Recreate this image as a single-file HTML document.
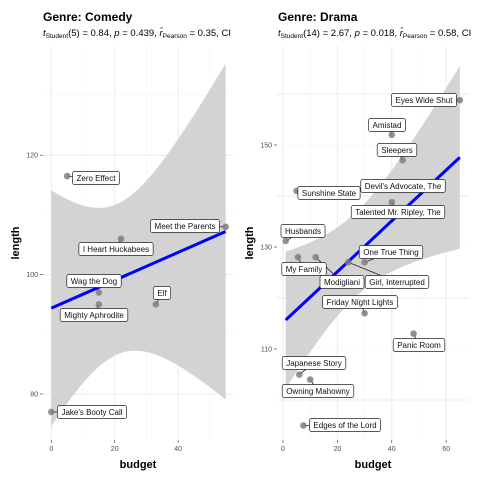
<!DOCTYPE html>
<html><head><meta charset="utf-8"><style>
body{margin:0;background:#fff;}
svg{display:block;font-family:"Liberation Sans",sans-serif;}
</style></head><body>
<svg id="chart" width="480" height="480">
<defs>
<clipPath id="clipL"><rect x="0" y="0" width="240" height="480"/></clipPath>
<clipPath id="clipR"><rect x="240" y="0" width="240" height="480"/></clipPath>
</defs>
</svg>
<script>
// Comedy data
const comedyNames = ["Zero Effect","Meet the Parents","I Heart Huckabees","Wag the Dog","Mighty Aphrodite","Elf","Jake's Booty Call"];
const comedyBudget = [5,55,22,15,15,33,0];
const comedyLength = [116.5,108,106,97,95,95,77];
// Drama data
const dramaNames = ["Eyes Wide Shut","Amistad","Sleepers","Devil's Advocate, The","Talented Mr. Ripley, The","Sunshine State","Husbands","My Family","Modigliani","Girl, Interrupted","One True Thing","Friday Night Lights","Panic Room","Japanese Story","Owning Mahowny","Edges of the Lord"];
const dramaBudget = [65,40,44,57,40,5,1,5.5,12,24,30,30,48,6,10,7.5];
const dramaLength = [158.8,152,147,142,138.8,141,131.2,128,128,127,127,117,113,105,104,95];
// tick labels
const comedyXTicks = [0,20,40];
const comedyYTicks = [80,100,120];
const dramaXTicks = [0,20,40,60];
const dramaYTicks = [110,130,150];
// label box centers (layout)
const comedyLabelPos = [[96,178],[185,226],[116,249],[94,281],[94,315],[162,293],[92,412]];
const dramaLabelPos = [[424,100],[387,125],[397,150],[403,186],[398,212],[329,193],[303,231],[304,269],[342,282],[397,282],[391,252],[360,302],[419,345],[314,363],[318,391],[345,425]];

const NS="http://www.w3.org/2000/svg";
const svg=document.getElementById('chart');
function mk(tag,attrs,parent){const e=document.createElementNS(NS,tag);for(const k in attrs)e.setAttribute(k,attrs[k]);(parent||svg).appendChild(e);return e;}

function panel(o){
  const g=mk('g',{'clip-path':o.clip});
  
  
  const sx=v=>o.x0px+(v-o.xmin)*o.xs;
  const sy=v=>o.y0px-(v-o.ymin)*o.ys;
  for(let v=o.gridXmin; v<=o.gridXmax; v+=o.xstep/2){
    const major=Math.abs((v/o.xstep)-Math.round(v/o.xstep))<1e-6;
    mk('line',{x1:sx(v),x2:sx(v),y1:o.top,y2:o.bot,stroke:major?'#ebebeb':'#f4f4f4','stroke-width':major?1:0.6},g);
  }
  for(let v=o.gridYmin; v<=o.gridYmax; v+=o.ystep/2){
    const major=Math.abs((v/o.ystep)-Math.round(v/o.ystep))<1e-6;
    mk('line',{x1:o.left,x2:o.right,y1:sy(v),y2:sy(v),stroke:major?'#ebebeb':'#f4f4f4','stroke-width':major?1:0.6},g);
  }
  const xs=o.bx, ys=o.ly, n=xs.length;
  const mx=xs.reduce((a,b)=>a+b)/n, my=ys.reduce((a,b)=>a+b)/n;
  let sxx=0,sxy=0;for(let i=0;i<n;i++){sxx+=(xs[i]-mx)**2;sxy+=(xs[i]-mx)*(ys[i]-my);}
  const b=sxy/sxx,a=my-b*mx;
  let sse=0;for(let i=0;i<n;i++)sse+=(ys[i]-a-b*xs[i])**2;
  const s=Math.sqrt(sse/(n-2));
  const xmin=Math.min(...xs),xmax=Math.max(...xs);
  const up=[],lo=[];
  for(let k=0;k<=80;k++){const x=xmin+(xmax-xmin)*k/80;const f=a+b*x;const se=s*Math.sqrt(1/n+(x-mx)**2/sxx);
    up.push(sx(x)+','+sy(f+o.t*se));lo.unshift(sx(x)+','+sy(f-o.t*se));}
  const band=mk('polygon',{points:up.concat(lo).join(' '),fill:'#d3d3d3'},g);
  
  
  const ln=mk('line',{x1:sx(xmin),y1:sy(a+b*xmin),x2:sx(xmax),y2:sy(a+b*xmax),stroke:'#0000ff','stroke-width':3},g);
  
  
  for(let i=0;i<n;i++){
    const px=sx(xs[i]),py=sy(ys[i]);const [lx,ly]=o.lp[i];
    mk('line',{x1:px,y1:py,x2:lx,y2:ly,stroke:'#222','stroke-width':0.8},g);
    const c=mk('circle',{cx:px,cy:py,r:3.3,fill:'#7f7f7f','fill-opacity':0.85},g);
    
    
  }
  for(let i=0;i<n;i++){
    const [lx,ly]=o.lp[i];
    const t=mk('text',{x:lx,y:ly+3,'font-size':8,'text-anchor':'middle',fill:'#111'},g);
    t.textContent=o.names[i];
    const w=t.getComputedTextLength()+8;
    const r=mk('rect',{x:lx-w/2,y:ly-6.5,width:w,height:13,rx:2,fill:'#fff',stroke:'#222','stroke-width':0.7},g);
    g.insertBefore(r,t);
    
    
  }
  o.xt.forEach(v=>{
    mk('line',{x1:sx(v),x2:sx(v),y1:o.bot,y2:o.bot+3,stroke:'#333','stroke-width':0.6});
    const t=mk('text',{x:sx(v),y:o.bot+11,'font-size':7,'text-anchor':'middle',fill:'#4d4d4d'});t.textContent=v;
    
    
  });
  o.yt.forEach(v=>{
    mk('line',{x1:o.left-3,x2:o.left,y1:sy(v),y2:sy(v),stroke:'#333','stroke-width':0.6});
    const t=mk('text',{x:o.left-5,y:sy(v)+2.5,'font-size':7,'text-anchor':'end',fill:'#4d4d4d'});t.textContent=v;
    
    
  });
}

panel({key:'comedy',clip:'url(#clipL)',bx:comedyBudget,ly:comedyLength,names:comedyNames,lp:comedyLabelPos,
  x0px:51.3,xmin:0,xs:3.17,y0px:394,ymin:80,ys:5.97,left:43,right:234,top:46,bot:440,
  gridXmin:0,gridXmax:50,xstep:20,gridYmin:80,gridYmax:130,ystep:20,t:2.571,xt:comedyXTicks,yt:comedyYTicks});
panel({key:'drama',clip:'url(#clipR)',bx:dramaBudget,ly:dramaLength,names:dramaNames,lp:dramaLabelPos,
  x0px:283,xmin:0,xs:2.72,y0px:349,ymin:110,ys:5.1,left:277,right:469,top:46,bot:440,
  gridXmin:0,gridXmax:60,xstep:20,gridYmin:100,gridYmax:160,ystep:20,t:2.145,xt:dramaXTicks,yt:dramaYTicks});
</script>
<svg width="480" height="480" style="position:absolute;left:0;top:0;font-family:'Liberation Sans',sans-serif;">
<defs>
<clipPath id="cL2"><rect x="0" y="0" width="240" height="480"/></clipPath>
<clipPath id="cR2"><rect x="240" y="0" width="240" height="480"/></clipPath>
</defs>
<text x="43" y="21" font-size="12" font-weight="bold" fill="#000">Genre: Comedy</text>
<text x="278" y="21" font-size="12" font-weight="bold" fill="#000">Genre: Drama</text>
<g clip-path="url(#cL2)"><text x="43" y="36" font-size="9.5" fill="#000"><tspan font-style="italic">t</tspan><tspan font-size="6.5" dy="2">Student</tspan><tspan dy="-2">(5) = 0.84, </tspan><tspan font-style="italic">p</tspan> = 0.439, <tspan font-style="italic">r̂</tspan><tspan font-size="6.5" dy="2">Pearson</tspan><tspan dy="-2"> = 0.35, CI</tspan></text></g>
<g clip-path="url(#cR2)"><text x="278" y="36" font-size="9.5" fill="#000"><tspan font-style="italic">t</tspan><tspan font-size="6.5" dy="2">Student</tspan><tspan dy="-2">(14) = 2.67, </tspan><tspan font-style="italic">p</tspan> = 0.018, <tspan font-style="italic">r̂</tspan><tspan font-size="6.5" dy="2">Pearson</tspan><tspan dy="-2"> = 0.58, CI</tspan></text></g>
<text x="138" y="468" font-size="11" font-weight="bold" text-anchor="middle">budget</text>
<text x="373" y="468" font-size="11" font-weight="bold" text-anchor="middle">budget</text>
<text transform="translate(19,243) rotate(-90)" font-size="11" font-weight="bold" text-anchor="middle">length</text>
<text transform="translate(253,243) rotate(-90)" font-size="11" font-weight="bold" text-anchor="middle">length</text>
</svg>
</body></html>
